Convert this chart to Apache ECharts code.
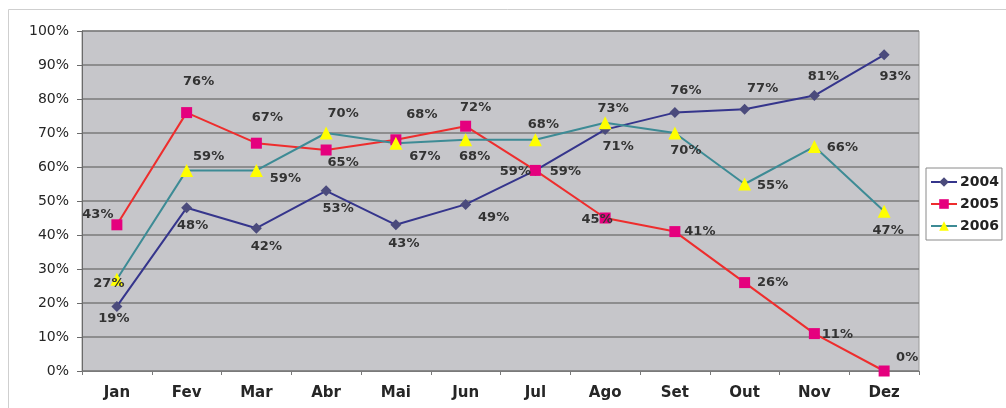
<!DOCTYPE html>
<html>
<head>
<meta charset="utf-8">
<script src="https://cdn.jsdelivr.net/npm/echarts@6/dist/echarts.min.js"></script>
<style>
  html, body { margin: 0; padding: 0; background: #ffffff; }
  #chart { width: 1006px; height: 408px; }
</style>
</head>
<body>
<div id="chart"></div>
<script>
// Monthly percentages per year
const months = ['Jan', 'Fev', 'Mar', 'Abr', 'Mai', 'Jun', 'Jul', 'Ago', 'Set', 'Out', 'Nov', 'Dez'];
const years = ['2004', '2005', '2006'];
const values2004 = [19, 48, 42, 53, 43, 49, 59, 71, 76, 77, 81, 93];
const values2005 = [43, 76, 67, 65, 68, 72, 59, 45, 41, 26, 11, 0];
const values2006 = [27, 59, 59, 70, 67, 68, 68, 73, 70, 55, 66, 47];
const yTicks = [0, 10, 20, 30, 40, 50, 60, 70, 80, 90, 100];

// Label placement (pixel offsets from each point) to keep the labels apart
const offsets2004 = [[-3, 12], [6, 18], [10, 18], [12, 18], [8, 19], [28, 13], [30, 1], [13, 17], [11, -22], [18, -21], [9, -19], [11, 22]];
const offsets2005 = [[-19, -10], [12, -31], [11, -26], [17, 13], [26, -25], [10, -19], [-20, 1], [-8, 2], [25, 0], [28, 0], [23, 1], [23, -13]];
const offsets2006 = [[-8, 4], [22, -14], [29, 8], [17, -19], [29, 13], [9, 17], [8, -15], [8, -14], [11, 18], [28, 2], [28, 1], [4, 19]];

const labelFont = { fontFamily: 'DejaVu Sans', fontWeight: 'bold', fontSize: 13, color: '#333333' };

function pointData(values, offsets) {
  return values.map((v, i) => ({
    value: v,
    label: { offset: offsets[i] }
  }));
}

function makeSeries(name, values, offsets, lineColor, symbol, symbolColor, symbolSize) {
  return {
    name: name,
    type: 'line',
    data: pointData(values, offsets),
    symbol: symbol,
    symbolSize: symbolSize,
    lineStyle: { color: lineColor, width: 2 },
    itemStyle: { color: symbolColor, borderWidth: 0 },
    label: Object.assign({
      show: true,
      position: 'inside',
      formatter: p => p.value + '%'
    }, labelFont),
    emphasis: { disabled: true }
  };
}

const chart = echarts.init(document.getElementById('chart'), null, { renderer: 'canvas' });

chart.setOption({
  animation: false,
  backgroundColor: '#ffffff',
  graphic: [{
    type: 'rect',
    shape: { x: 8.5, y: 9.5, width: 1010, height: 410 },
    style: { fill: 'none', stroke: '#cfcfcf', lineWidth: 1 },
    z: -1
  }],
  grid: {
    left: 82, right: 87, top: 31, bottom: 37,
    show: true,
    backgroundColor: '#c6c6ca',
    borderColor: '#9a9a9a',
    borderWidth: 1
  },
  legend: {
    orient: 'vertical',
    left: 926, top: 168,
    data: years,
    itemWidth: 26, itemHeight: 12, itemGap: 8,
    padding: [7, 3, 7, 4],
    backgroundColor: '#ffffff',
    borderColor: '#8a8a8a', borderWidth: 1, borderRadius: 0,
    textStyle: { fontFamily: 'DejaVu Sans', fontWeight: 'bold', fontSize: 14, color: '#222222', padding: [0, 0, 0, -2] }
  },
  xAxis: {
    type: 'category',
    data: months,
    boundaryGap: true,
    axisLine: { lineStyle: { color: '#7a7a7a', width: 1 } },
    axisTick: { show: true, alignWithLabel: false, length: 4, lineStyle: { color: '#7a7a7a' } },
    axisLabel: { margin: 15, fontFamily: 'DejaVu Sans', fontWeight: 'bold', fontSize: 15, color: '#262626' },
    splitLine: { show: false }
  },
  yAxis: {
    type: 'value',
    min: yTicks[0],
    max: yTicks[yTicks.length - 1],
    interval: yTicks[1] - yTicks[0],
    axisLine: { show: true, lineStyle: { color: '#6a6a6a', width: 1 } },
    axisTick: { show: true, length: 5, lineStyle: { color: '#6a6a6a' } },
    axisLabel: { margin: 13, fontFamily: 'DejaVu Sans', fontSize: 14, color: '#262626', formatter: v => v + '%' },
    splitLine: { show: true, lineStyle: { color: '#7a7a7a', width: 1.5 } }
  },
  series: [
    makeSeries(years[0], values2004, offsets2004, '#35358c', 'diamond', '#4b4b7c', 11),
    makeSeries(years[1], values2005, offsets2005, '#ee2d2d', 'rect', '#e5007e', 11),
    makeSeries(years[2], values2006, offsets2006, '#3d8b95', 'triangle', '#ffff00', 13)
  ]
});
</script>
</body>
</html>
